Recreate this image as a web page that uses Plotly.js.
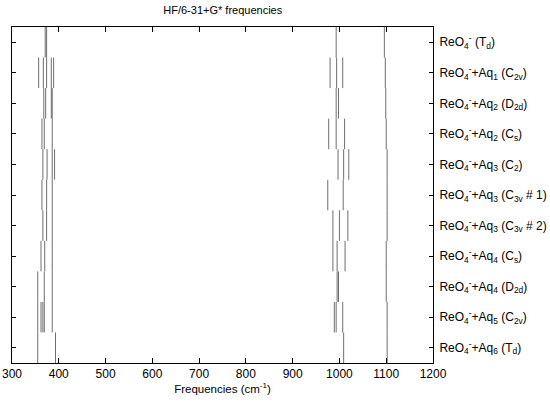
<!DOCTYPE html>
<html>
<head>
<meta charset="utf-8">
<script src="https://cdn.plot.ly/plotly-3.0.1.min.js"></script>
<style>
  html, body { margin: 0; padding: 0; background: #fff; }
  #chart { width: 550px; height: 404px; }
</style>
</head>
<body>
<div id="chart"></div>
<script>
// row labels, top to bottom
const labels = [
  'ReO<sub>4</sub><sup>-</sup> (T<sub>d</sub>)',
  'ReO<sub>4</sub><sup>-</sup>+Aq<sub>1</sub> (C<sub>2v</sub>)',
  'ReO<sub>4</sub><sup>-</sup>+Aq<sub>2</sub> (D<sub>2d</sub>)',
  'ReO<sub>4</sub><sup>-</sup>+Aq<sub>2</sub> (C<sub>s</sub>)',
  'ReO<sub>4</sub><sup>-</sup>+Aq<sub>3</sub> (C<sub>2</sub>)',
  'ReO<sub>4</sub><sup>-</sup>+Aq<sub>3</sub> (C<sub>3v</sub> # 1)',
  'ReO<sub>4</sub><sup>-</sup>+Aq<sub>3</sub> (C<sub>3v</sub> # 2)',
  'ReO<sub>4</sub><sup>-</sup>+Aq<sub>4</sub> (C<sub>s</sub>)',
  'ReO<sub>4</sub><sup>-</sup>+Aq<sub>4</sub> (D<sub>2d</sub>)',
  'ReO<sub>4</sub><sup>-</sup>+Aq<sub>5</sub> (C<sub>2v</sub>)',
  'ReO<sub>4</sub><sup>-</sup>+Aq<sub>6</sub> (T<sub>d</sub>)'
];

// Re-O frequencies (cm-1) for each structure
const freqTd   = [371, 374, 993, 1096];
const freqAq1  = [357, 367, 374, 384, 389, 980, 994, 1007, 1098];
const freqAq2a = [368, 372, 384, 386, 993, 998, 1099];
const freqAq2b = [364, 369, 386, 977, 993, 1011, 1100];
const freqAq3a = [366, 375, 386, 391, 997, 1009, 1020, 1102];
const freqAq3b = [364, 374, 386, 975, 1008, 1102];
const freqAq3c = [366, 374, 386, 986, 1000, 1018, 1102];
const freqAq4a = [362, 370, 386, 986, 995, 1012, 1100];
const freqAq4b = [355, 369, 386, 995, 998, 1100];
const freqAq5  = [355, 362, 366, 369, 386, 989, 993, 1007, 1102];
const freqAq6  = [355, 393, 1009, 1102];

const rows = [freqTd, freqAq1, freqAq2a, freqAq2b, freqAq3a, freqAq3b,
              freqAq3c, freqAq4a, freqAq4b, freqAq5, freqAq6];

const data = rows.map((freqs, i) => {
  const x = [], y = [];
  freqs.forEach(f => {
    x.push(f, f, null);
    y.push(i - 0.5, i + 0.5, null);
  });
  return {
    type: 'scatter',
    mode: 'lines',
    x, y,
    line: { color: 'rgb(110,110,110)', width: 1 },
    hoverinfo: 'x',
    showlegend: false
  };
});

const font = { family: 'Liberation Sans, Arial, sans-serif', size: 11, color: '#000' };
const tickFont = { ...font, size: 12 };

const layout = {
  width: 550,
  height: 404,
  margin: { l: 12, r: 117, t: 27, b: 41 },
  paper_bgcolor: '#fff',
  plot_bgcolor: '#fff',
  font,
  title: {
    text: 'HF/6-31+G* frequencies',
    font,
    x: 0.405, xanchor: 'center',
    y: 0.975, yanchor: 'middle'
  },
  xaxis: {
    range: [300, 1200],
    tick0: 300, dtick: 100,
    ticks: 'inside', ticklen: 5, tickcolor: '#000',
    showline: true, linecolor: '#000', linewidth: 1,
    mirror: 'ticks',
    showgrid: false, zeroline: false,
    tickfont: tickFont,
    title: { text: 'Frequencies (cm<sup>-1</sup>)', font: { ...font, size: 11.5 }, standoff: 2 }
  },
  yaxis: {
    range: [10.5, -0.5],
    side: 'right',
    tickvals: labels.map((_, i) => i),
    ticktext: labels,
    ticks: 'inside', ticklen: 4, tickcolor: '#000',
    showline: true, linecolor: '#000', linewidth: 1,
    mirror: 'ticks',
    showgrid: false, zeroline: false,
    tickfont: tickFont,
    ticklabelstandoff: 3
  }
};

Plotly.newPlot('chart', data, layout, { displayModeBar: false, staticPlot: true });
</script>
</body>
</html>
